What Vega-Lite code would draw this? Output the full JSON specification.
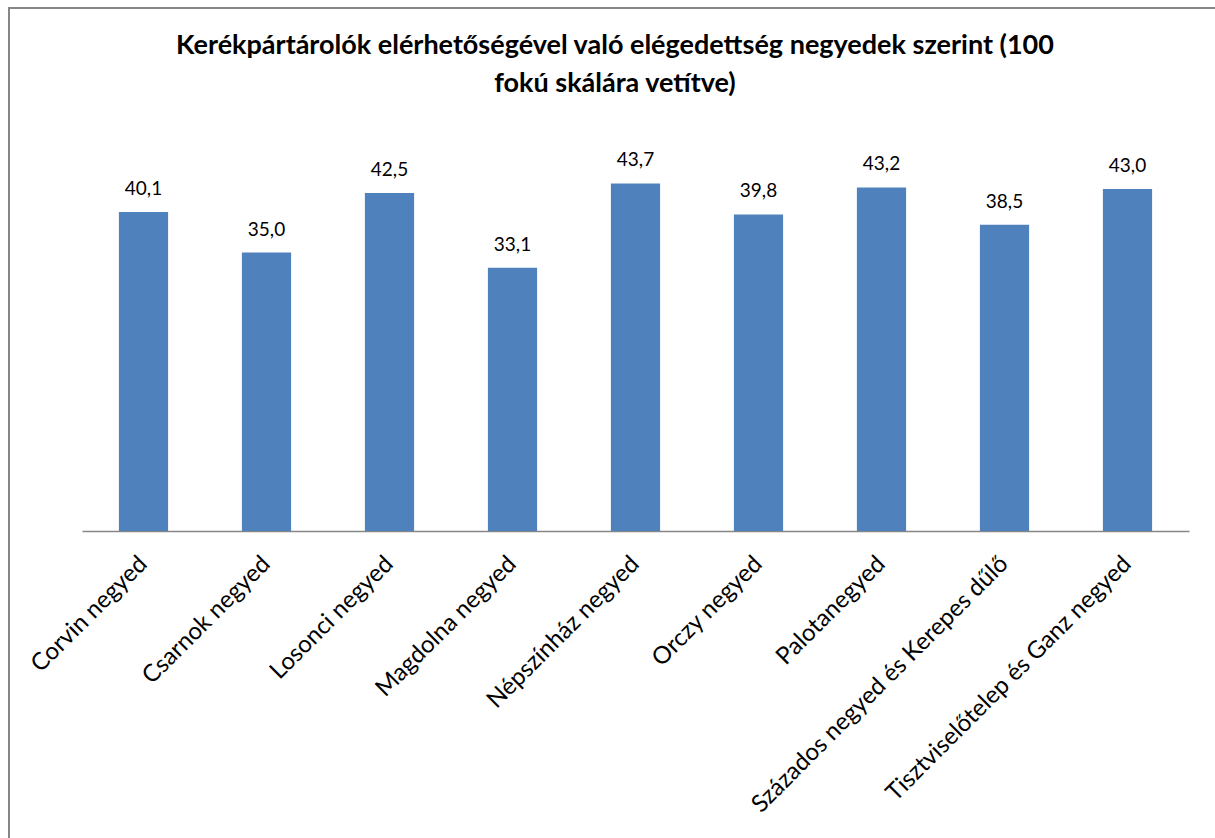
{
  "$schema": "https://vega.github.io/schema/vega-lite/v6.json",
  "autosize": {"type": "none"},
  "padding": {"left": 9, "top": 8, "right": -6, "bottom": -6},
  "width": 1212,
  "height": 836,
  "background": "white",
  "title": {
    "text": ["Kerékpártárolók elérhetőségével való elégedettség negyedek szerint (100", "fokú skálára vetítve)"],
    "font": "Lato",
    "fontSize": 27,
    "fontWeight": "bold",
    "color": "#000000",
    "anchor": "middle",
    "frame": "group",
    "baseline": "top",
    "offset": -90,
    "lineHeight": 38
  },
  "data": {
    "values": [
      {"negyed": "Corvin negyed", "v": 40.1},
      {"negyed": "Csarnok negyed", "v": 35.0},
      {"negyed": "Losonci negyed", "v": 42.5},
      {"negyed": "Magdolna negyed", "v": 33.1},
      {"negyed": "Népszínház negyed", "v": 43.7},
      {"negyed": "Orczy negyed", "v": 39.8},
      {"negyed": "Palotanegyed", "v": 43.2},
      {"negyed": "Százados negyed és Kerepes dűlő", "v": 38.5},
      {"negyed": "Tisztviselőtelep és Ganz negyed", "v": 43.0}
    ]
  },
  "encoding": {
    "x": {
      "field": "negyed",
      "type": "nominal",
      "sort": null,
      "scale": {"range": [73, 1180], "paddingInner": 0.6, "paddingOuter": 0.3},
      "axis": {
        "title": null,
        "domainColor": "#868686",
        "domainWidth": 1.5,
        "ticks": false,
        "labelAngle": -45,
        "labelAlign": "right",
        "labelBaseline": "middle",
        "labelFont": "Lato",
        "labelFontSize": 24,
        "labelColor": "#000000",
        "labelPadding": 29,
        "labelLimit": 1000,
        "offset": -313
      }
    },
    "y": {
      "field": "v",
      "type": "quantitative",
      "scale": {"domain": [0, 50], "range": [523, 125.3]},
      "axis": null
    }
  },
  "layer": [
    {"mark": {"type": "bar", "color": "#4F81BD"}},
    {
      "mark": {"type": "text", "baseline": "alphabetic", "dy": -17, "font": "Lato", "fontSize": 19, "color": "#000000"},
      "encoding": {"text": {"field": "v", "type": "quantitative", "format": ".1f"}}
    }
  ],
  "config": {
    "view": {"stroke": "#868686", "strokeWidth": 2},
    "locale": {"number": {"decimal": ",", "thousands": " ", "grouping": [3], "currency": ["", ""]}}
  }
}
